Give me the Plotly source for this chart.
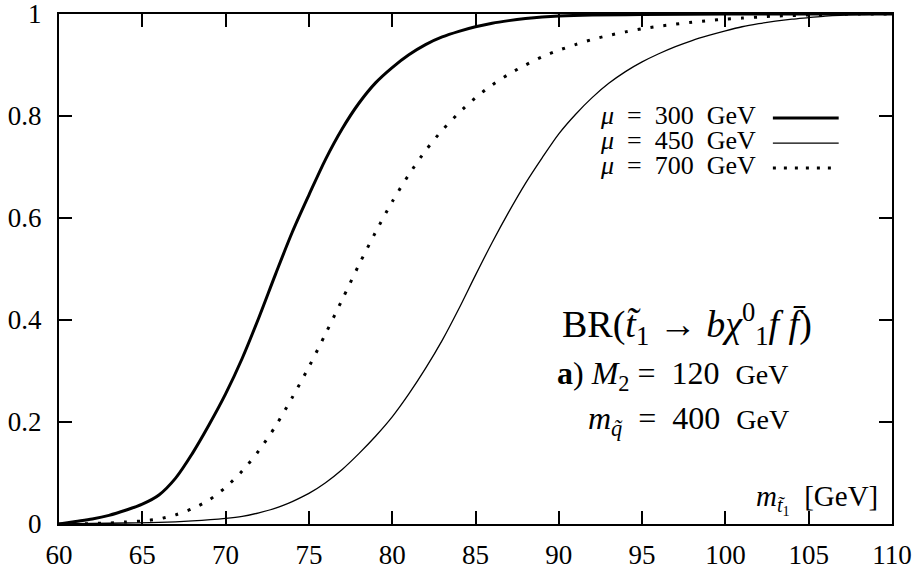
import plotly.graph_objects as go

# ---- data ----
x_mu300 = [60, 61, 62, 63, 64, 65, 66, 67, 68, 69, 70, 71, 72, 73, 74, 75, 76, 77, 78, 79, 80,
           81, 82, 83, 84, 85, 86, 87, 88, 89, 90, 92, 95, 100, 105, 110]
y_mu300 = [0.0, 0.005, 0.01, 0.017, 0.027, 0.039, 0.057, 0.09, 0.138, 0.194, 0.255, 0.325, 0.405,
           0.49, 0.572, 0.645, 0.715, 0.775, 0.825, 0.865, 0.895, 0.92, 0.94, 0.955, 0.966, 0.975,
           0.982, 0.987, 0.991, 0.994, 0.996, 0.998, 0.999, 1.0, 1.0, 1.0]

x_mu450 = [60, 62, 64, 66, 68, 70, 71, 72, 73, 74, 75, 76, 77, 78, 79, 80, 81, 82, 83, 84, 85,
           86, 87, 88, 89, 90, 91, 92, 93, 94, 95, 96, 97, 98, 99, 100, 101, 102, 103, 104, 105,
           106, 108, 110]
y_mu450 = [0.0, 0.001, 0.002, 0.003, 0.006, 0.011, 0.015, 0.022, 0.031, 0.044, 0.06, 0.081, 0.107,
           0.138, 0.172, 0.21, 0.255, 0.305, 0.36, 0.422, 0.488, 0.552, 0.612, 0.668, 0.718, 0.765,
           0.803, 0.836, 0.864, 0.887, 0.906, 0.922, 0.936, 0.948, 0.958, 0.967, 0.975, 0.981,
           0.986, 0.99, 0.993, 0.996, 0.999, 1.0]

x_mu700 = [60, 61, 62, 63, 64, 65, 66, 67, 68, 69, 70, 71, 72, 73, 74, 75, 76, 77, 78, 79, 80,
           81, 82, 83, 84, 85, 86, 87, 88, 89, 90, 91, 92, 93, 94, 95, 96, 97, 98, 99, 100, 101,
           102, 103, 104, 105, 106, 108, 110]
y_mu700 = [0.0, 0.0, 0.001, 0.002, 0.004, 0.006, 0.01, 0.018, 0.03, 0.047, 0.072, 0.104, 0.144,
           0.192, 0.248, 0.308, 0.373, 0.44, 0.508, 0.572, 0.632, 0.685, 0.732, 0.772, 0.806, 0.836,
           0.861, 0.882, 0.9, 0.916, 0.929, 0.94, 0.95, 0.958, 0.965, 0.971, 0.976, 0.98,
           0.984, 0.987, 0.99, 0.992, 0.994, 0.996, 0.997, 0.998, 0.999, 1.0, 1.0]

x_ticks = [60, 65, 70, 75, 80, 85, 90, 95, 100, 105, 110]
y_ticks = [0, 0.2, 0.4, 0.6, 0.8, 1]
y_tick_labels = ["0", "0.2", "0.4", "0.6", "0.8", "1"]

series_names = ["μ = 300 GeV", "μ = 450 GeV", "μ = 700 GeV"]
mu_values = ["300", "450", "700"]

FONT = "'Liberation Serif', 'Times New Roman', 'DejaVu Serif', serif"
NB = "\u00a0"

fig = go.Figure()
fig.add_trace(go.Scatter(x=x_mu300, y=y_mu300, mode="lines", name=series_names[0],
                         line=dict(color="black", width=3, shape="spline", smoothing=0.9)))
fig.add_trace(go.Scatter(x=x_mu450, y=y_mu450, mode="lines", name=series_names[1],
                         line=dict(color="black", width=1.3, shape="spline", smoothing=0.8)))
fig.add_trace(go.Scatter(x=x_mu700, y=y_mu700, mode="lines", name=series_names[2],
                         line=dict(color="black", width=3, dash="3px,10px", shape="spline",
                                   smoothing=0.8)))

axis_common = dict(showline=True, linecolor="black", linewidth=2, mirror="allticks",
                   ticks="inside", ticklen=13, tickwidth=2, tickcolor="black",
                   showgrid=False, zeroline=False, automargin=False,
                   ticklabeloverflow="allow",
                   tickfont=dict(family=FONT, size=27, color="black"))

fig.update_xaxes(range=[60, 110], tickvals=x_ticks, ticktext=[str(v) for v in x_ticks],
                 ticklabelstandoff=6, **axis_common)
fig.update_yaxes(range=[0, 1], tickvals=y_ticks, ticktext=y_tick_labels,
                 ticklabelstandoff=10, **axis_common)

# legend (text left of sample, as in the reference)
leg_y = [0.796, 0.747, 0.698]
leg_styles = [dict(width=3), dict(width=1.3), dict(width=3, dash="3px,8px")]
for yy, mv, st in zip(leg_y, mu_values, leg_styles):
    lab = f"<i>μ</i>{NB}{NB}={NB}{NB}{mv}{NB}{NB}GeV"
    fig.add_annotation(x=0.839, y=yy + 0.004, xref="paper", yref="paper", text=lab,
                       showarrow=False, xanchor="right", yanchor="middle",
                       font=dict(family=FONT, size=26, color="black"))
    fig.add_shape(type="line", xref="paper", yref="paper", x0=0.857, x1=0.936, y0=yy, y1=yy,
                  line=dict(color="black", **st))

fig.add_annotation(x=0.754, y=0.392, xref="paper", yref="paper",
                   text="BR(<i>t̃</i><sub>1</sub>" + NB + "→" + NB
                        + "<i>bχ</i><sup>0</sup><sub>1</sub><i>f</i>" + NB + "<i>f̄</i>)",
                   showarrow=False, xanchor="center", yanchor="middle",
                   font=dict(family=FONT, size=38, color="black"))
fig.add_annotation(x=0.596, y=0.292, xref="paper", yref="paper",
                   text="<b>a</b>)" + NB + "<i>M</i><sub>2</sub>" + NB + "=" + NB + NB
                        + "120" + NB + NB + "<span style='font-size:28px'>GeV</span>",
                   showarrow=False, xanchor="left", yanchor="middle",
                   font=dict(family=FONT, size=32, color="black"))
fig.add_annotation(x=0.633, y=0.202, xref="paper", yref="paper",
                   text="<i>m</i><sub><i>q̃</i></sub>" + NB + NB + "=" + NB + NB + "400" + NB + NB
                        + "<span style='font-size:28px'>GeV</span>",
                   showarrow=False, xanchor="left", yanchor="middle",
                   font=dict(family=FONT, size=32, color="black"))
fig.add_annotation(x=0.985, y=0.048, xref="paper", yref="paper",
                   text="<i>m</i><sub><i>t̃</i><sub>1</sub></sub>" + NB + NB + "[GeV]",
                   showarrow=False, xanchor="right", yanchor="middle",
                   font=dict(family=FONT, size=29, color="black"))

fig.update_layout(width=915, height=571, showlegend=False,
                  margin=dict(l=59, r=23, t=14, b=47),
                  plot_bgcolor="white", paper_bgcolor="white",
                  font=dict(family=FONT, color="black"))

fig.write_html("out.html", config={"displayModeBar": False},
               post_script="document.body.style.margin='0';"
                           "document.documentElement.style.overflow='hidden';")
